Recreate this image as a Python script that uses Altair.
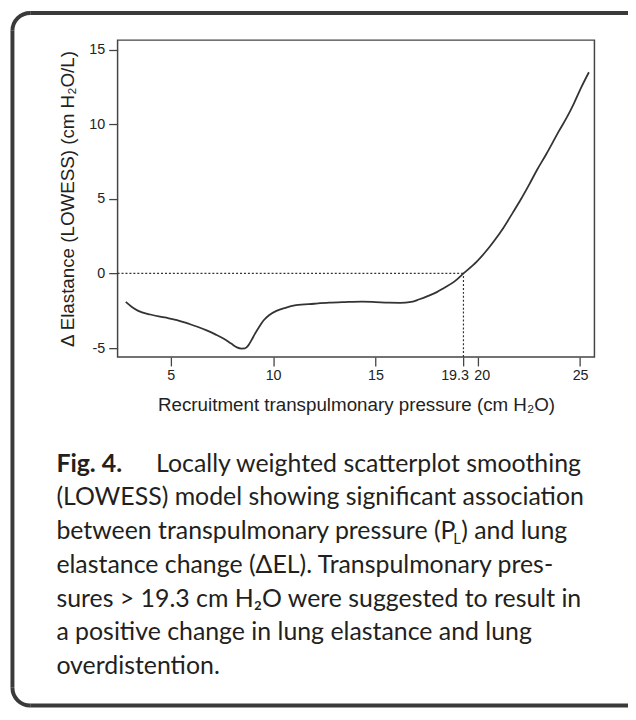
import math
import altair as alt
import pandas as pd

# ---- curve (LOWESS) ----
x_vals = [2.80, 3.10, 3.41, 4.00, 4.70, 5.30, 5.82, 6.30, 6.78, 7.20, 7.59, 7.95,
          8.23, 8.45, 8.62, 8.79, 8.95, 9.11, 9.30, 9.52, 9.80, 10.16, 10.60,
          11.12, 12.00, 12.73, 13.50, 14.33, 15.00, 15.62, 16.20, 16.75, 17.15,
          17.55, 18.00, 18.35, 18.85, 19.30, 19.95, 20.35, 20.76, 21.25, 21.72,
          22.10, 22.53, 22.90, 23.33, 23.65, 23.97, 24.35, 24.70, 25.05, 25.43]
y_vals = [-1.91, -2.25, -2.51, -2.75, -2.95, -3.12, -3.35, -3.57, -3.83, -4.10,
          -4.38, -4.70, -4.95, -5.03, -5.02, -4.82, -4.45, -4.05, -3.62, -3.17,
          -2.80, -2.51, -2.30, -2.13, -2.03, -1.96, -1.92, -1.89, -1.92, -1.96,
          -1.97, -1.91, -1.73, -1.52, -1.25, -0.97, -0.55, 0.00, 0.79, 1.40,
          2.11, 3.05, 4.09, 4.95, 6.00, 6.95, 7.95, 8.75, 9.55, 10.45, 11.40,
          12.45, 13.48]

x_ticks = [5, 10, 15, 19.3, 20, 25]
y_ticks = [-5, 0, 5, 10, 15]
threshold_x = 19.3
threshold_y = 0
x_domain = [2.4, 25.7]
y_domain = [-5.6, 15.63]

x_title = "Recruitment transpulmonary pressure (cm H\u2082O)"
y_title = "\u0394 Elastance (LOWESS) (cm H\u2082O/L)"

caption_label = "Fig. 4."
caption_lines = [
    "Locally weighted scatterplot smoothing",
    "(LOWESS) model showing significant association",
    "between transpulmonary pressure (P",
    "elastance change (\u0394EL). Transpulmonary pres-",
    "sures > 19.3 cm H\u2082O were suggested to result in",
    "a positive change in lung elastance and lung",
    "overdistention.",
]
caption_sub = "L"
caption_line3_tail = ") and lung"

curve_df = pd.DataFrame({"x": x_vals, "y": y_vals})
hrule_df = pd.DataFrame({"x": [x_domain[0]], "x2": [threshold_x], "y": [threshold_y]})
vrule_df = pd.DataFrame({"x": [threshold_x], "y": [y_domain[0]], "y2": [threshold_y]})
one = pd.DataFrame({"a": [0]})

W, H = 483, 321
INK = "#231f20"
AX = "#444444"
CAP = 25.2
FRAME = "#3a3a3a"

xscale = alt.Scale(domain=x_domain, nice=False, zero=False)
yscale = alt.Scale(domain=y_domain, nice=False, zero=False)

xaxis = alt.Axis(values=x_ticks, labelExpr="'' + datum.value", title=x_title,
                 titleY=48, titleBaseline="middle", labelFlush=False,
                 labelOverlap=False,
                 labelOffset={"condition": [{"test": "datum.value == 19.3", "value": -9},
                                            {"test": "datum.value == 20", "value": 4}],
                              "value": 0})
yaxis = alt.Axis(values=y_ticks, labelExpr="'' + datum.value", title=y_title,
                 titleX=-51, titleY=H / 2, titleBaseline="middle", titleAlign="center",
                 labelOverlap=False)

curve = alt.Chart(curve_df).mark_line(color="#333333", strokeWidth=1.8,
                                      interpolate="monotone").encode(
    x=alt.X("x:Q", scale=xscale, axis=xaxis),
    y=alt.Y("y:Q", scale=yscale, axis=yaxis),
)
hrule = alt.Chart(hrule_df).mark_rule(color="#333333", strokeWidth=1.2,
                                      strokeDash=[2, 2]).encode(
    x=alt.X("x:Q", scale=xscale), x2="x2:Q", y=alt.Y("y:Q", scale=yscale))
vrule = alt.Chart(vrule_df).mark_rule(color="#333333", strokeWidth=1.2,
                                      strokeDash=[2, 2]).encode(
    x=alt.X("x:Q", scale=xscale), y=alt.Y("y:Q", scale=yscale), y2="y2:Q")

# ---- rounded frame around figure (open on the right, as cropped in the source) ----
FL, FT, FB, FR, R = -106.5, -27.5, 674, 517, 18


def frule(**enc):
    return alt.Chart(one).mark_rule(color=FRAME, strokeWidth=4).encode(**enc)


def farc(cx, cy, t1, t2):
    return alt.Chart(one).mark_arc(filled=False, stroke=FRAME, strokeWidth=4,
                                   radius=R, radius2=R, theta=t1, theta2=t2).encode(
        x=alt.value(cx), y=alt.value(cy))


frame = [
    frule(x=alt.value(FL + R), x2=alt.value(FR), y=alt.value(FT)),
    frule(x=alt.value(FL + R), x2=alt.value(FR), y=alt.value(FB)),
    frule(x=alt.value(FL), y=alt.value(FT + R), y2=alt.value(FB - R)),
    farc(FL + R, FT + R, 1.5 * math.pi, 2 * math.pi),
    farc(FL + R, FB - R, math.pi, 1.5 * math.pi),
]


def txt(s, x, y, size=CAP, weight="normal"):
    return alt.Chart(one).mark_text(text=s, align="left", baseline="alphabetic",
                                    font="Lato", fontSize=size, fontWeight=weight,
                                    color=INK).encode(x=alt.value(x), y=alt.value(y))


base_y = 437
lead = 34.2
cap_left = -62
layers = frame + [curve, hrule, vrule,
                  txt(caption_label, cap_left, base_y, weight="bold"),
                  txt(caption_lines[0], 39, base_y)]
for i, line in enumerate(caption_lines[1:], start=1):
    layers.append(txt(line, cap_left, base_y + i * lead))
layers.append(txt(caption_sub, 340, base_y + 2 * lead + 5, size=15))
layers.append(txt(caption_line3_tail, 348, base_y + 2 * lead))

chart = alt.layer(*layers).properties(
    width=W, height=H,
    autosize=alt.AutoSizeParams(type="none"),
    padding={"left": 111, "top": 28, "right": 34, "bottom": 355},
).configure_view(stroke=AX, strokeWidth=1.5).configure_axis(
    domain=False, grid=False, ticks=True, tickSize=9, tickWidth=1.3, tickColor=AX,
    labelFont="Liberation Sans", labelFontSize=14.5, labelColor="#222222",
    labelPadding=3, titleFont="Liberation Sans", titleFontSize=19,
    titleFontWeight="normal", titleColor="#222222",
).configure_axisY(labelPadding=4)

chart.save("out.html", embed_options={"renderer": "svg", "actions": False})
